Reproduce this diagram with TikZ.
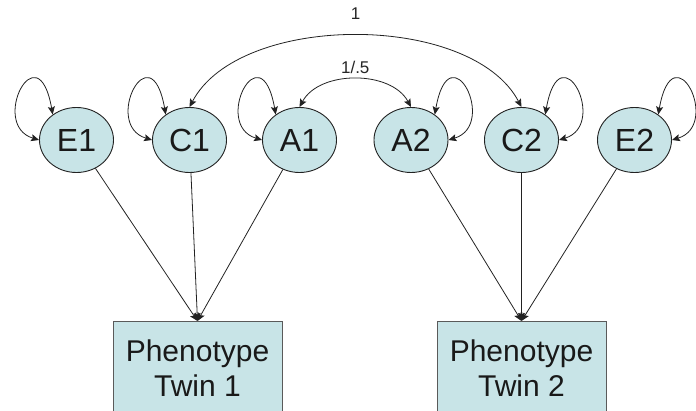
\documentclass[tikz,border=0pt]{standalone}
\usepackage{fontspec}
\setmainfont{Liberation Sans}
\usetikzlibrary{arrows.meta,shapes.geometric}
\definecolor{latfill}{RGB}{200,228,231}
\definecolor{edgecol}{RGB}{34,34,34}
\definecolor{boxedge}{RGB}{90,90,90}

\begin{document}
\begin{tikzpicture}[x=1pt,y=1pt,
  >={Stealth[length=8pt,width=7pt,inset=1.5pt]},
  latent/.style={ellipse, draw=edgecol, line width=0.9pt, fill=latfill,
    minimum width=74pt, minimum height=65pt, inner sep=0pt,
    font=\fontsize{32}{38}\selectfont, text=black!90},
  pheno/.style={rectangle, draw=boxedge, line width=0.8pt, fill=latfill,
    minimum width=169pt, minimum height=100pt, inner sep=0pt, anchor=north},
  phenotext/.style={align=center, inner sep=0pt,
    font=\fontsize{30}{35}\selectfont, text=black!90},
  loadarrow/.style={draw=edgecol, line width=0.8pt, ->},
  covarrow/.style={draw=edgecol, line width=0.8pt, <->},
  lbl/.style={font=\fontsize{17}{20}\selectfont, inner sep=0pt, text=black!85}
]
\useasboundingbox (0,0) rectangle (696,410);

% phenotype boxes (run off the bottom edge)
\node[pheno] (P1) at (197.5,89) {};
\node[pheno] (P2) at (521.5,89) {};
\node[phenotext] (T1) at (197.5,41.5) {Phenotype\\Twin 1};
\node[phenotext] (T2) at (521.5,41.5) {Phenotype\\Twin 2};

% latent factors
\node[latent] (E1) at (76.5,270) {E1};
\node[latent] (C1) at (189.5,270) {C1};
\node[latent] (A1) at (299.5,270) {A1};
\node[latent] (A2) at (411,270) {A2};
\node[latent] (C2) at (521.5,270) {C2};
\node[latent] (E2) at (634.5,270) {E2};

% factor loadings
\draw[loadarrow] (E1) -- (P1.north);
\draw[loadarrow] (C1) -- (P1.north);
\draw[loadarrow] (A1) -- (P1.north);
\draw[loadarrow] (A2) -- (P2.north);
\draw[loadarrow] (C2) -- (P2.north);
\draw[loadarrow] (E2) -- (P2.north);

% variances (self loops)
\draw[covarrow] (E1.180) .. controls +(-50,15) and +(-15,85) .. (E1.133);
\draw[covarrow] (C1.180) .. controls +(-50,15) and +(-15,85) .. (C1.133);
\draw[covarrow] (A1.180) .. controls +(-50,15) and +(-15,85) .. (A1.133);
\draw[covarrow] (A2.0) .. controls +(50,15) and +(15,85) .. (A2.47);
\draw[covarrow] (C2.0) .. controls +(50,15) and +(15,85) .. (C2.47);
\draw[covarrow] (E2.0) .. controls +(50,15) and +(15,85) .. (E2.47);

% cross-twin covariances
\draw[covarrow] (C1.north) .. controls +(50,95) and +(-50,95) .. (C2.north)
  node[lbl, midway, above=16pt] (L1) {1};
\draw[covarrow] (A1.north) .. controls +(20,37) and +(-20,37) .. (A2.north)
  node[lbl, midway, above=5pt] (L2) {1/.5};
\end{tikzpicture}
\end{document}
